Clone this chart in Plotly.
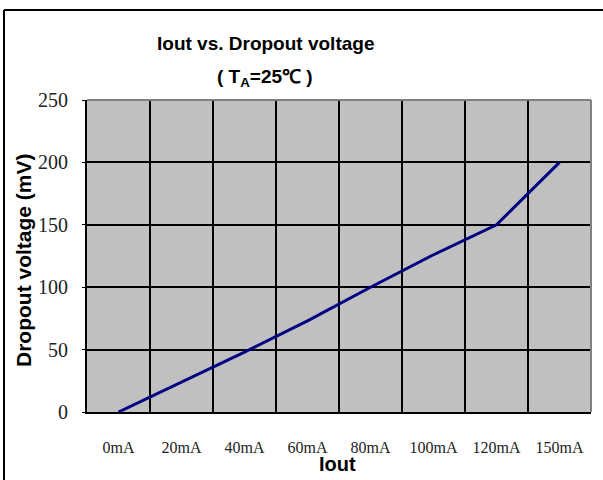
import plotly.graph_objects as go

categories = ["0mA", "20mA", "40mA", "60mA", "80mA", "100mA", "120mA", "150mA"]
dropout_mv = [0, 24, 48, 73, 100, 126, 150, 200]
y_ticks = [0, 50, 100, 150, 200, 250]

W, H = 603, 480
L, R, T, B = 87, 591, 100, 412
pw, ph = R - L, B - T

def px(x):
    return (x - L) / pw

def py(y):
    return (B - y) / ph

fig = go.Figure()
fig.add_trace(go.Scatter(
    x=categories, y=dropout_mv, mode="lines",
    line=dict(color="#000080", width=3), showlegend=False,
))

frame = dict(color="black", width=2)
fig.update_layout(
    width=W, height=H,
    margin=dict(l=L, r=W - R, t=T, b=H - B, pad=0),
    paper_bgcolor="white",
    plot_bgcolor="#C0C0C0",
    xaxis=dict(
        type="category", range=[-0.5, 7.5],
        tickson="boundaries", ticks="",
        showgrid=True, gridcolor="black", gridwidth=1.5,
        showline=True, linecolor="black", linewidth=2,
        tickfont=dict(family="Liberation Serif", size=16, color="#222"),
        ticklabelstandoff=20,
    ),
    yaxis=dict(
        range=[0, 250], tickvals=y_ticks,
        ticks="outside", ticklen=3, tickcolor="black", tickwidth=1,
        showgrid=True, gridcolor="black", gridwidth=1.5,
        zeroline=False,
        showline=True, linecolor="black", linewidth=2,
        tickfont=dict(family="Liberation Serif", size=20, color="#222"),
        ticklabelstandoff=10,
    ),
    shapes=[
        dict(type="line", xref="paper", yref="paper", x0=0, x1=1, y0=1, y1=1,
             line=dict(color="#808080", width=2), layer="above"),
        dict(type="line", xref="paper", yref="paper", x0=1, x1=1, y0=0, y1=1,
             line=dict(color="#808080", width=2), layer="above"),
        dict(type="line", xref="paper", yref="paper",
             x0=px(4), x1=px(603), y0=py(10), y1=py(10), line=frame),
        dict(type="line", xref="paper", yref="paper",
             x0=px(4), x1=px(4), y0=py(480), y1=py(10), line=frame),
    ],
    annotations=[
        dict(text="<b>Iout vs. Dropout voltage</b>", xref="paper", yref="paper",
             x=px(265), y=py(44), showarrow=False, xanchor="center", yanchor="middle",
             font=dict(family="Arial, Liberation Sans", size=19, color="black")),
        dict(text="<b>( T<sub>A</sub>=25℃ )</b>", xref="paper", yref="paper",
             x=px(265), y=py(78), showarrow=False, xanchor="center", yanchor="middle",
             font=dict(family="Arial, Liberation Sans", size=19, color="black")),
        dict(text="<b>Dropout voltage (mV)</b>", xref="paper", yref="paper",
             x=px(23), y=py(260), showarrow=False, xanchor="center", yanchor="middle",
             textangle=-90,
             font=dict(family="Arial, Liberation Sans", size=21, color="black")),
        dict(text="<b>Iout</b>", xref="paper", yref="paper",
             x=px(337), y=py(464), showarrow=False, xanchor="center", yanchor="middle",
             font=dict(family="Arial, Liberation Sans", size=20, color="black")),
    ],
)

fig.write_html(
    "out.html",
    config={"displayModeBar": False},
    post_script="document.body.style.margin='0px';document.body.style.overflow='hidden';",
)
